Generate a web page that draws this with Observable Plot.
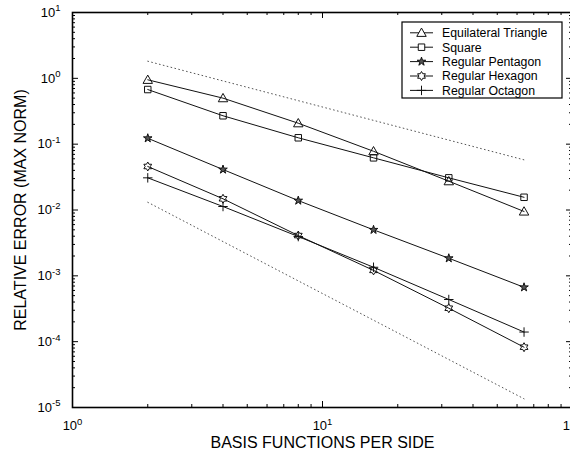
<!DOCTYPE html>
<html><head><meta charset="utf-8">
<script src="https://cdn.jsdelivr.net/npm/d3@7"></script>
<script src="https://cdn.jsdelivr.net/npm/@observablehq/plot@0.6"></script>
<style>
body{margin:0;background:#fff}
#chart svg{font-family:"Liberation Sans",Arial,Helvetica,sans-serif;overflow:hidden}
</style>
</head><body><div id="chart"></div>
<script>
// ---- data ----
const basis = [2, 4, 8, 16, 32, 64];
const triangle = [0.95, 0.50, 0.208, 0.078, 0.0274, 0.0095];
const square   = [0.676, 0.27, 0.125, 0.062, 0.0308, 0.0156];
const pentagon = [0.123, 0.0412, 0.0139, 0.0050, 0.00185, 0.00067];
const hexagon  = [0.0458, 0.0148, 0.00409, 0.00121, 0.000322, 0.0000824];
const octagon  = [0.0308, 0.0113, 0.00395, 0.00135, 0.000437, 0.00014];
const guideX = [2, 64];
const guideUpper = [1.82, 0.0578];
const guideLower = [0.0131, 0.00001355];
const seriesNames = ["Equilateral Triangle", "Square", "Regular Pentagon", "Regular Hexagon", "Regular Octagon"];
const xMajor = [1, 10, 100];
const xMinor = [2,3,4,5,6,7,8,9,20,30,40,50,60,70,80,90];
const yMajor = [1e-5, 1e-4, 1e-3, 1e-2, 1e-1, 1, 10];
const yMinor = [];
for (const d of [1e-5,1e-4,1e-3,1e-2,1e-1,1]) for (let k = 2; k <= 9; k++) yMinor.push(+(d*k).toPrecision(3));

// ---- marker symbols ----
const R = s => Math.sqrt(s / Math.PI);
const symTriangle = {draw(c, s){const r=R(s); c.moveTo(0,-r*1.05); c.lineTo(r*1.05,r*0.8); c.lineTo(-r*1.05,r*0.8); c.closePath();}};
const symSquare = {draw(c, s){const r=R(s)*0.72; c.moveTo(-r,-r); c.lineTo(r,-r); c.lineTo(r,r); c.lineTo(-r,r); c.closePath();}};
function starSym(n, inner){return {draw(c, s){const r=R(s); for(let i=0;i<2*n;i++){const a=-Math.PI/2+i*Math.PI/n; const rr=i%2?r*inner:r; const x=rr*Math.cos(a), y=rr*Math.sin(a); if(i===0)c.moveTo(x,y); else c.lineTo(x,y);} c.closePath();}};}
const symPentagram = starSym(5, 0.38);
const symHexagram = starSym(6, 0.577);
const symPlus = {draw(c, s){const r=R(s)*1.05; c.moveTo(-r,0); c.lineTo(r,0); c.moveTo(0,-r); c.lineTo(0,r);}};

const seriesValues = [triangle, square, pentagon, hexagon, octagon];
const symbols = [symTriangle, symSquare, symPentagram, symHexagram, symPlus];
const fills = ["none", "none", "#555", "none", "none"];
const series = seriesNames.map((name, i) => ({
  name, symbol: symbols[i], fill: fills[i],
  points: basis.map((b, j) => ({x: b, y: seriesValues[i][j]}))
}));
const guides = [guideUpper, guideLower].map(g => guideX.map((x, j) => ({x, y: g[j]})));

const W = 570, H = 452, mT = 12, mB = 45, mL = 72, mR = -2;
const plotH = H - mT - mB;

const fmt = d => "10|" + Math.round(Math.log10(d));

const marks = [];
for (const g of guides) marks.push(Plot.line(g, {x: "x", y: "y", stroke: "#555", strokeWidth: 1, strokeDasharray: "0.8,3.2", strokeLinecap: "round"}));
for (const s of series) {
  marks.push(Plot.line(s.points, {x: "x", y: "y", stroke: "#111", strokeWidth: 1}));
  marks.push(Plot.dot(s.points, {x: "x", y: "y", symbol: s.symbol, r: 4.5, stroke: "#111", strokeWidth: 1, fill: s.fill}));
}
// inward ticks on all four sides
marks.push(Plot.tickX(xMajor, {x: d => d, insetTop: plotH - 6, stroke: "#000"}));
marks.push(Plot.tickX(xMajor, {x: d => d, insetBottom: plotH - 6, stroke: "#000"}));
marks.push(Plot.tickX(xMinor, {x: d => d, insetTop: plotH - 3, stroke: "#000"}));
marks.push(Plot.tickX(xMinor, {x: d => d, insetBottom: plotH - 3, stroke: "#000"}));
marks.push(Plot.tickY(yMajor, {y: d => d, insetRight: (W - mL - mR) - 6, stroke: "#000"}));
marks.push(Plot.tickY(yMajor, {y: d => d, insetLeft: (W - mL - mR) - 6, stroke: "#000"}));
marks.push(Plot.tickY(yMinor, {y: d => d, insetRight: (W - mL - mR) - 3, stroke: "#000"}));
marks.push(Plot.tickY(yMinor, {y: d => d, insetLeft: (W - mL - mR) - 3, stroke: "#000"}));
marks.push(Plot.axisX({ticks: xMajor, tickSize: 0, tickPadding: 13, tickFormat: fmt, fontSize: 13, label: "BASIS FUNCTIONS PER SIDE", labelAnchor: "center", labelOffset: 40, labelArrow: "none"}));
marks.push(Plot.axisY({ticks: yMajor, tickSize: 0, tickPadding: 12, tickFormat: fmt, fontSize: 13, label: "RELATIVE ERROR (MAX NORM)", labelAnchor: "center", labelOffset: 58, labelArrow: "none"}));
marks.push(Plot.frame({stroke: "#000", strokeWidth: 1.6}));

const chart = Plot.plot({
  width: W, height: H,
  marginTop: mT, marginBottom: mB, marginLeft: mL, marginRight: mR,
  style: {fontFamily: '"Liberation Sans", Arial, sans-serif', fontSize: "13px", color: "#000", background: "#fff"},
  x: {type: "log", domain: [1, 100]},
  y: {type: "log", domain: [1e-5, 10]},
  marks
});
document.getElementById("chart").appendChild(chart);

// superscript exponents on tick labels
const svg = d3.select(chart);
svg.selectAll('g[aria-label="x-axis tick label"] text, g[aria-label="y-axis tick label"] text').each(function(){
  const t = d3.select(this);
  const txt = t.text();
  if (!txt.includes("|")) return;
  const [base, exp] = txt.split("|");
  t.text(null);
  t.append("tspan").text(base);
  t.append("tspan").attr("dy", "-0.55em").attr("font-size", "9.5px").text(exp);
});
svg.selectAll('g[aria-label="x-axis label"] text, g[aria-label="y-axis label"] text').attr("font-size", 16);

// legend box inside the plot
const lg = svg.append("g").attr("font-size", 12.3).attr("text-anchor", "start");
const lx = 402, ly = 22, lw = 160, lh = 76, rowH = 14.4;
lg.append("rect").attr("x", lx).attr("y", ly).attr("width", lw).attr("height", lh).attr("fill", "#fff").attr("stroke", "#000").attr("stroke-width", 1.2);
series.forEach((s, i) => {
  const cy = ly + 10.8 + i * rowH;
  lg.append("line").attr("x1", lx + 8).attr("x2", lx + 31).attr("y1", cy).attr("y2", cy).attr("stroke", "#111");
  lg.append("path").attr("d", d3.symbol(s.symbol, Math.PI * 4.5 * 4.5)()).attr("transform", `translate(${lx + 19.5},${cy})`).attr("fill", s.fill === "none" ? "#fff" : s.fill).attr("stroke", "#111");
  lg.append("text").attr("x", lx + 40).attr("y", cy).attr("dy", "0.36em").attr("text-anchor", "start").text(s.name);
});
</script></body></html>
